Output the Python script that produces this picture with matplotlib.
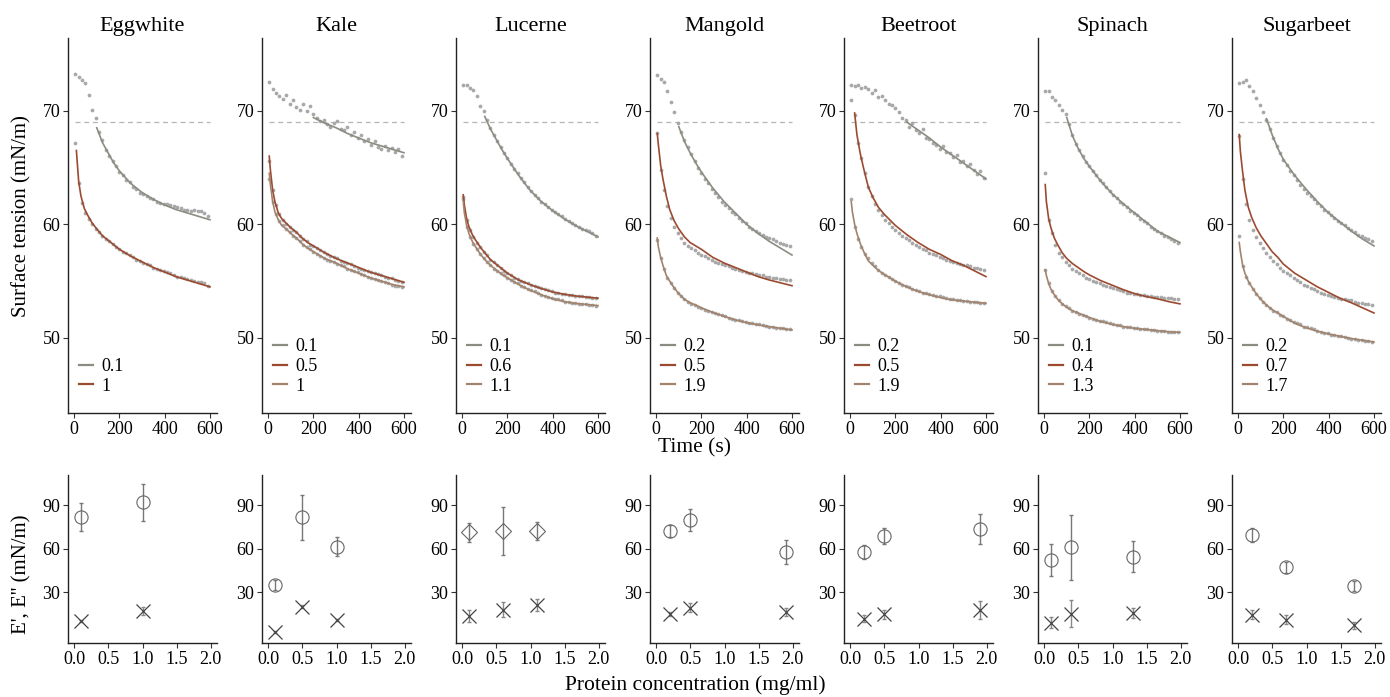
import matplotlib
matplotlib.use("Agg")
import matplotlib.pyplot as plt
from matplotlib.lines import Line2D

plt.rcParams['font.family'] = ['Liberation Serif', 'DejaVu Serif']

n = float('nan')

proteins = ['Eggwhite', 'Kale', 'Lucerne', 'Mangold', 'Beetroot', 'Spinach', 'Sugarbeet']

# time of measured points (s)
t_pts = [5, 20, 35, 50, 65, 80, 95, 110, 125, 140,
         155, 170, 185, 200, 215, 230, 245, 260, 275, 290,
         305, 320, 335, 350, 365, 380, 395, 410, 425, 440,
         455, 470, 485, 500, 515, 530, 545, 560, 575, 590]
# time of fitted curves (s)
t_fit = [5, 10, 20, 30, 45, 60, 80, 100, 125, 150, 175, 200, 250, 300, 350, 400, 450, 500, 550, 600]

REF_TENSION = 69.0

# ---- surface tension, measured points ----
eggwhite_01_pts = [73.2, 73.0, 72.7, 72.4, 71.4, 70.1, 69.4, 68.1, 67.4, 66.5,
                   66.0, 65.6, 65.1, 64.6, 64.3, 63.9, 63.7, 63.3, 63.1, 62.8,
                   62.7, 62.5, 62.3, 62.2, 62.0, 61.9, 61.8, 61.8, 61.7, 61.6,
                   61.5, 61.4, 61.3, 61.3, 61.2, 61.3, 61.2, 61.2, 61.0, 60.7]
eggwhite_1_pts = [67.2, 63.6, 61.9, 61.0, 60.5, 60.0, 59.6, 59.3, 59.0, 58.7,
                  58.5, 58.3, 58.0, 57.8, 57.6, 57.5, 57.3, 57.1, 56.9, 56.8,
                  56.6, 56.5, 56.4, 56.2, 56.1, 56.0, 55.9, 55.8, 55.7, 55.5,
                  55.4, 55.4, 55.3, 55.2, 55.1, 55.0, 54.9, 54.9, 54.8, 54.6]
kale_01_pts = [72.5, 71.9, 71.6, 71.3, 71.0, 71.4, 70.6, 70.9, 70.3, 70.1,
               70.6, 70.0, 70.4, 69.7, 69.4, 69.1, 69.2, 68.8, 68.6, 68.9,
               69.1, 68.4, 68.3, 68.6, 67.9, 68.1, 67.6, 67.9, 67.3, 67.5,
               67.0, 67.3, 66.8, 66.6, 66.9, 66.5, 66.7, 66.4, 66.6, 66.0]
kale_05_pts = [65.6, 63.0, 61.7, 60.9, 60.4, 60.0, 59.8, 59.5, 59.3, 59.0,
               58.7, 58.5, 58.2, 58.1, 57.9, 57.7, 57.6, 57.4, 57.2, 57.1,
               57.0, 56.8, 56.7, 56.6, 56.5, 56.3, 56.2, 56.1, 56.0, 55.9,
               55.8, 55.7, 55.6, 55.5, 55.4, 55.3, 55.3, 55.1, 55.0, 54.9]
kale_1_pts = [64.0, 62.0, 60.9, 60.3, 59.9, 59.6, 59.3, 59.0, 58.8, 58.5,
              58.2, 58.0, 57.8, 57.6, 57.4, 57.2, 57.0, 56.9, 56.8, 56.7,
              56.5, 56.4, 56.3, 56.1, 56.0, 55.9, 55.8, 55.6, 55.5, 55.4,
              55.3, 55.2, 55.1, 55.0, 54.9, 54.8, 54.7, 54.6, 54.6, 54.5]
lucerne_01_pts = [72.3, 72.3, 72.0, 71.8, 71.3, 70.4, 70.0, 69.2, 68.5, 67.9,
                  67.3, 66.8, 66.3, 65.8, 65.3, 64.9, 64.5, 64.1, 63.7, 63.3,
                  62.9, 62.6, 62.3, 62.0, 61.8, 61.5, 61.3, 61.1, 60.9, 60.7,
                  60.5, 60.3, 60.1, 59.9, 59.8, 59.6, 59.5, 59.4, 59.2, 59.0]
lucerne_06_pts = [62.4, 60.4, 59.5, 58.9, 58.4, 58.0, 57.6, 57.3, 56.9, 56.7,
                  56.4, 56.2, 55.9, 55.7, 55.5, 55.3, 55.2, 55.0, 54.9, 54.8,
                  54.7, 54.6, 54.5, 54.4, 54.3, 54.2, 54.1, 54.0, 53.95, 53.9,
                  53.85, 53.8, 53.75, 53.7, 53.7, 53.65, 53.6, 53.6, 53.55, 53.5]
lucerne_11_pts = [62.2, 59.8, 58.9, 58.3, 57.8, 57.4, 57.0, 56.7, 56.4, 56.1,
                  55.9, 55.7, 55.5, 55.3, 55.1, 54.9, 54.8, 54.6, 54.5, 54.3,
                  54.2, 54.1, 54.0, 53.8, 53.7, 53.6, 53.5, 53.4, 53.4, 53.3,
                  53.2, 53.2, 53.1, 53.05, 53.0, 53.0, 52.95, 52.9, 52.9, 52.85]
mangold_02_pts = [73.1, 72.8, 72.5, 71.7, 70.8, 69.9, 68.9, 68.1, 67.4, 66.8,
                  66.2, 65.6, 65.0, 64.5, 64.0, 63.6, 63.1, 62.8, 62.4, 62.0,
                  61.7, 61.4, 61.1, 60.9, 60.6, 60.3, 60.1, 59.8, 59.6, 59.4,
                  59.2, 59.1, 58.9, 58.8, 58.7, 58.5, 58.4, 58.3, 58.2, 58.1]
mangold_05_pts = [68.0, 64.8, 63.0, 61.6, 60.6, 59.8, 59.2, 58.8, 58.4, 58.1,
                  57.9, 57.7, 57.5, 57.3, 57.2, 57.0, 56.9, 56.7, 56.6, 56.5,
                  56.4, 56.3, 56.2, 56.1, 56.0, 55.9, 55.8, 55.7, 55.7, 55.6,
                  55.5, 55.5, 55.4, 55.4, 55.3, 55.3, 55.2, 55.2, 55.1, 55.1]
mangold_19_pts = [58.6, 57.0, 56.1, 55.3, 54.8, 54.4, 54.0, 53.7, 53.4, 53.2,
                  53.0, 52.9, 52.75, 52.6, 52.5, 52.4, 52.3, 52.2, 52.1, 52.0,
                  51.9, 51.8, 51.7, 51.6, 51.55, 51.5, 51.4, 51.35, 51.3, 51.25,
                  51.2, 51.1, 51.05, 51.0, 50.95, 50.9, 50.9, 50.85, 50.8, 50.75]
beetroot_02_pts = [72.3, 72.2, 72.3, 72.0, 72.1, 71.9, 71.6, 71.8, 71.2, 71.3,
                   70.9, 70.6, 70.5, 70.2, 69.9, 69.4, 69.2, 68.6, 68.9, 68.3,
                   68.0, 68.4, 67.6, 67.5, 67.2, 67.0, 66.6, 66.9, 66.4, 66.3,
                   65.9, 66.1, 65.5, 65.6, 65.1, 65.3, 64.8, 64.4, 64.7, 64.1]
beetroot_05_pts = [70.9, 69.6, 67.2, 65.8, 64.5, 63.3, 62.5, 61.8, 61.3, 60.8,
                   60.4, 60.1, 59.8, 59.5, 59.2, 59.0, 58.8, 58.6, 58.4, 58.2,
                   58.0, 57.8, 57.7, 57.5, 57.4, 57.3, 57.1, 57.0, 56.9, 56.8,
                   56.7, 56.6, 56.5, 56.4, 56.4, 56.3, 56.2, 56.2, 56.1, 56.0]
beetroot_19_pts = [62.2, 59.8, 58.7, 58.0, 57.4, 57.0, 56.6, 56.3, 56.0, 55.75,
                   55.55, 55.4, 55.2, 55.0, 54.85, 54.7, 54.55, 54.45, 54.35, 54.2,
                   54.1, 54.0, 53.95, 53.85, 53.8, 53.7, 53.65, 53.6, 53.5, 53.45,
                   53.4, 53.35, 53.3, 53.25, 53.25, 53.2, 53.15, 53.15, 53.1, 53.05]
spinach_01_pts = [71.7, 71.7, 71.2, 70.9, 70.5, 70.1, 69.7, 68.8, 67.9, 67.1,
                  66.5, 66.0, 65.5, 65.1, 64.7, 64.3, 63.9, 63.6, 63.3, 62.9,
                  62.6, 62.3, 62.0, 61.8, 61.5, 61.2, 61.0, 60.8, 60.5, 60.3,
                  60.1, 59.8, 59.6, 59.4, 59.2, 59.0, 58.9, 58.7, 58.5, 58.4]
spinach_04_pts = [64.5, 60.4, 59.2, 58.2, 57.5, 57.1, 56.7, 56.4, 56.1, 55.9,
                  55.7, 55.5, 55.3, 55.2, 55.0, 54.9, 54.8, 54.7, 54.6, 54.5,
                  54.4, 54.3, 54.2, 54.1, 54.0, 54.0, 53.9, 53.9, 53.8, 53.8,
                  53.7, 53.7, 53.6, 53.6, 53.6, 53.5, 53.5, 53.5, 53.4, 53.4]
spinach_13_pts = [56.0, 54.8, 54.1, 53.7, 53.3, 53.0, 52.8, 52.6, 52.4, 52.25,
                  52.15, 52.0, 51.9, 51.8, 51.7, 51.6, 51.5, 51.45, 51.4, 51.3,
                  51.2, 51.15, 51.1, 51.0, 51.0, 50.95, 50.9, 50.85, 50.8, 50.8,
                  50.75, 50.7, 50.7, 50.65, 50.6, 50.6, 50.55, 50.55, 50.5, 50.5]
sugarbeet_02_pts = [72.4, 72.5, 72.7, 72.2, 71.7, 71.1, 70.5, 69.9, 69.2, 68.4,
                    67.6, 66.9, 66.3, 65.7, 65.2, 64.7, 64.3, 63.9, 63.5, 63.1,
                    62.8, 62.5, 62.2, 61.9, 61.6, 61.3, 61.1, 60.8, 60.6, 60.3,
                    60.1, 59.9, 59.7, 59.5, 59.3, 59.1, 59.0, 58.8, 58.7, 58.5]
sugarbeet_07_pts = [67.8, 64.0, 61.8, 60.4, 59.5, 58.9, 58.4, 57.9, 57.5, 57.1,
                    56.8, 56.5, 56.2, 55.9, 55.7, 55.5, 55.3, 55.1, 54.9, 54.7,
                    54.6, 54.4, 54.3, 54.1, 54.0, 53.9, 53.8, 53.7, 53.6, 53.5,
                    53.4, 53.4, 53.3, 53.3, 53.2, 53.1, 53.1, 53.0, 53.0, 52.9]
sugarbeet_17_pts = [58.95, 56.3, 55.4, 54.8, 54.3, 53.9, 53.5, 53.2, 52.9, 52.65,
                    52.4, 52.25, 52.05, 51.9, 51.7, 51.55, 51.4, 51.3, 51.2, 51.0,
                    50.95, 50.85, 50.75, 50.6, 50.55, 50.45, 50.4, 50.3, 50.25, 50.2,
                    50.15, 50.1, 50.0, 49.95, 49.9, 49.85, 49.8, 49.75, 49.7, 49.65]

# ---- surface tension, fitted curves ----
eggwhite_01_fit = [n, n, n, n, n, n, n, 68.5, 67.2, 66.3, 65.4, 64.7, 63.6, 62.8, 62.2, 61.7, 61.3, 61.0, 60.7, 60.4]
eggwhite_1_fit = [n, 66.5, 63.8, 62.5, 61.4, 60.8, 60.1, 59.6, 59.0, 58.6, 58.2, 57.8, 57.2, 56.7, 56.2, 55.8, 55.4, 55.1, 54.8, 54.5]
kale_01_fit = [n, n, n, n, n, n, n, n, n, n, n, 69.4, 68.9, 68.5, 68.0, 67.6, 67.2, 66.9, 66.6, 66.3]
kale_05_fit = [66.0, 64.8, 63.0, 62.0, 61.0, 60.5, 60.1, 59.7, 59.3, 58.8, 58.4, 58.1, 57.5, 57.0, 56.6, 56.2, 55.8, 55.5, 55.2, 54.9]
kale_1_fit = [64.5, 63.5, 62.0, 61.1, 60.4, 59.9, 59.6, 59.2, 58.8, 58.3, 57.9, 57.6, 57.0, 56.6, 56.1, 55.7, 55.3, 55.0, 54.7, 54.5]
lucerne_01_fit = [n, n, n, n, n, n, n, 69.5, 68.4, 67.5, 66.6, 65.8, 64.3, 63.0, 62.0, 61.2, 60.5, 59.9, 59.4, 58.9]
lucerne_06_fit = [62.6, 61.7, 60.5, 59.8, 59.1, 58.6, 58.0, 57.5, 56.9, 56.5, 56.1, 55.7, 55.1, 54.7, 54.35, 54.05, 53.85, 53.7, 53.6, 53.5]
lucerne_11_fit = [62.0, 61.0, 59.9, 59.2, 58.5, 58.0, 57.4, 56.9, 56.4, 56.0, 55.6, 55.3, 54.7, 54.2, 53.8, 53.45, 53.2, 53.05, 52.95, 52.85]
mangold_02_fit = [n, n, n, n, n, n, n, 68.6, 67.3, 66.3, 65.4, 64.6, 63.2, 62.0, 61.0, 60.0, 59.2, 58.5, 57.9, 57.3]
mangold_05_fit = [68.0, 67.0, 65.2, 64.0, 62.5, 61.3, 60.3, 59.6, 58.9, 58.4, 58.1, 57.8, 57.1, 56.6, 56.2, 55.8, 55.4, 55.1, 54.85, 54.6]
mangold_19_fit = [58.8, 58.0, 57.1, 56.4, 55.5, 55.0, 54.4, 53.9, 53.4, 53.1, 52.9, 52.65, 52.25, 51.9, 51.6, 51.35, 51.15, 51.0, 50.85, 50.7]
beetroot_02_fit = [n, n, n, n, n, n, n, n, n, n, n, n, 69.0, 68.3, 67.6, 66.8, 66.1, 65.4, 64.7, 64.0]
beetroot_05_fit = [n, n, 69.8, 67.9, 66.2, 64.9, 63.3, 62.4, 61.5, 60.9, 60.4, 59.9, 59.1, 58.4, 57.8, 57.35, 56.8, 56.4, 55.9, 55.4]
beetroot_19_fit = [62.0, 61.1, 60.0, 59.2, 58.3, 57.6, 56.8, 56.4, 55.95, 55.6, 55.3, 55.0, 54.5, 54.1, 53.8, 53.55, 53.35, 53.25, 53.15, 53.05]
spinach_01_fit = [n, n, n, n, n, n, n, 69.4, 67.8, 66.7, 65.8, 65.1, 63.8, 62.7, 61.8, 61.0, 60.2, 59.4, 58.9, 58.4]
spinach_04_fit = [63.5, 62.0, 60.5, 59.7, 58.8, 58.2, 57.5, 57.0, 56.55, 56.2, 55.85, 55.55, 55.05, 54.65, 54.25, 53.9, 53.65, 53.45, 53.2, 53.0]
spinach_13_fit = [56.0, 55.5, 54.8, 54.3, 53.8, 53.4, 53.0, 52.7, 52.4, 52.2, 52.0, 51.8, 51.45, 51.2, 51.0, 50.85, 50.75, 50.65, 50.55, 50.5]
sugarbeet_02_fit = [n, n, n, n, n, n, n, n, 69.3, 67.9, 66.7, 65.7, 64.3, 63.1, 62.0, 61.0, 60.2, 59.4, 58.7, 58.1]
sugarbeet_07_fit = [67.9, 66.4, 64.6, 63.0, 61.5, 60.6, 59.7, 59.0, 58.3, 57.6, 57.1, 56.5, 55.7, 55.1, 54.5, 54.0, 53.5, 53.1, 52.65, 52.2]
sugarbeet_17_fit = [58.4, 57.6, 56.4, 55.7, 55.0, 54.5, 53.9, 53.4, 52.9, 52.5, 52.2, 51.9, 51.3, 50.9, 50.6, 50.35, 50.15, 49.95, 49.8, 49.65]

conc_labels = [['0.1', '1'], ['0.1', '0.5', '1'], ['0.1', '0.6', '1.1'], ['0.2', '0.5', '1.9'],
               ['0.2', '0.5', '1.9'], ['0.1', '0.4', '1.3'], ['0.2', '0.7', '1.7']]
pts_sets = [[eggwhite_01_pts, eggwhite_1_pts],
            [kale_01_pts, kale_05_pts, kale_1_pts],
            [lucerne_01_pts, lucerne_06_pts, lucerne_11_pts],
            [mangold_02_pts, mangold_05_pts, mangold_19_pts],
            [beetroot_02_pts, beetroot_05_pts, beetroot_19_pts],
            [spinach_01_pts, spinach_04_pts, spinach_13_pts],
            [sugarbeet_02_pts, sugarbeet_07_pts, sugarbeet_17_pts]]
fit_sets = [[eggwhite_01_fit, eggwhite_1_fit],
            [kale_01_fit, kale_05_fit, kale_1_fit],
            [lucerne_01_fit, lucerne_06_fit, lucerne_11_fit],
            [mangold_02_fit, mangold_05_fit, mangold_19_fit],
            [beetroot_02_fit, beetroot_05_fit, beetroot_19_fit],
            [spinach_01_fit, spinach_04_fit, spinach_13_fit],
            [sugarbeet_02_fit, sugarbeet_07_fit, sugarbeet_17_fit]]

# ---- dilatational moduli E' (storage) and E'' (loss), mN/m ----
conc = [[0.1, 1.0], [0.1, 0.5, 1.0], [0.1, 0.6, 1.1], [0.2, 0.5, 1.9],
        [0.2, 0.5, 1.9], [0.1, 0.4, 1.3], [0.2, 0.7, 1.7]]
e_store = [[82.0, 91.8], [34.8, 81.5, 61.3], [71.1, 72.1, 72.1], [72.1, 79.7, 57.8],
           [57.8, 68.9, 73.4], [52.1, 60.8, 54.4], [69.3, 47.0, 34.4]]
e_store_sd = [[9.6, 12.6], [3.5, 15.3, 6.5], [6.4, 16.7, 6.5], [4.2, 7.7, 8.3],
              [4.8, 5.4, 10.1], [11.2, 22.6, 10.5], [4.6, 3.5, 3.5]]
e_loss = [[10.2, 17.1], [2.6, 19.9, 10.7], [13.7, 18.0, 21.0], [14.8, 19.2, 16.4],
          [11.8, 14.8, 17.6], [9.1, 15.3, 15.7], [14.6, 11.1, 7.2]]
e_loss_sd = [[0.5, 3.0], [0.5, 1.0, 0.8], [4.0, 5.0, 4.0], [1.5, 3.0, 3.0],
             [2.5, 3.0, 6.2], [3.5, 9.5, 3.5], [3.0, 3.0, 2.5]]
store_marker = ['o', 'o', 'D', 'o', 'o', 'o', 'o']

fit_colors = ['#8c8c82', '#9b4a30', '#a3836b']
pt_color = '#a8a8a8'
tick_fs = 13

fig = plt.figure(figsize=(13.9, 6.97), dpi=100)


def style(ax):
    for s in ['top', 'right']:
        ax.spines[s].set_visible(False)
    for s in ['left', 'bottom']:
        ax.spines[s].set_linewidth(1.0)
        ax.spines[s].set_color('#222222')
    ax.tick_params(direction='out', length=3.5, width=0.8, color='#333333',
                   labelsize=tick_fs, pad=2)


for i, name in enumerate(proteins):
    left = (68 + 194 * i) / 1390
    w = 149 / 1390

    # top: surface tension vs time
    ax = fig.add_axes([left, 0.4075, w, 0.538])
    style(ax)
    ax.hlines(REF_TENSION, t_pts[0], t_fit[-1], colors='#b5b5b5', linestyles=(0, (4, 3)), lw=0.9)
    handles = []
    for k in range(len(pts_sets[i])):
        ax.plot(t_pts, pts_sets[i][k], 'o', ms=2.7, color=pt_color, mec='none')
    for k in range(len(fit_sets[i])):
        ax.plot(t_fit, fit_sets[i][k], '-', lw=1.2, color=fit_colors[k])
        handles.append(Line2D([], [], color=fit_colors[k], lw=1.6))
    ax.set_xlim(-27, 631)
    ax.set_ylim(43.4, 76.4)
    ax.set_xticks([0, 200, 400, 600])
    ax.set_yticks([50, 60, 70])
    ax.set_title(name, fontsize=16, pad=5)
    ax.legend(handles, conc_labels[i], loc='lower left', bbox_to_anchor=(0.0, 0.02),
              frameon=False, handlelength=0.8, handletextpad=0.45, labelspacing=0.15,
              fontsize=tick_fs, borderaxespad=0.2)

    # bottom: E' and E'' vs concentration
    bx = fig.add_axes([left, 0.0775, w, 0.241])
    style(bx)
    bx.errorbar(conc[i], e_store[i], yerr=e_store_sd[i], fmt='none', ecolor='#777777',
                elinewidth=1.0, capsize=1.5, capthick=1.0)
    ms = 8.5 if store_marker[i] == 'D' else 9.5
    bx.plot(conc[i], e_store[i], store_marker[i], ms=ms, mfc='none', mec='#666666', mew=0.8)
    bx.errorbar(conc[i], e_loss[i], yerr=e_loss_sd[i], fmt='none', ecolor='#888888',
                elinewidth=1.0, capsize=1.5, capthick=1.0)
    bx.plot(conc[i], e_loss[i], 'x', ms=10, mew=0.9, color='#444444')
    bx.set_xlim(-0.09, 2.09)
    bx.set_ylim(-5, 110.7)
    bx.set_xticks([0, 0.5, 1.0, 1.5, 2.0])
    bx.set_xticklabels(['0.0', '0.5', '1.0', '1.5', '2.0'])
    bx.set_yticks([30, 60, 90])

fig.text(0.5, 0.357, 'Time (s)', ha='center', va='center', fontsize=15.5)
fig.text(0.5, 0.017, 'Protein concentration (mg/ml)', ha='center', va='center', fontsize=15.5)
fig.text(0.016, 0.69, 'Surface tension (mN/m)', rotation=90, ha='center', va='center', fontsize=15)
fig.text(0.016, 0.176, "E', E'' (mN/m)", rotation=90, ha='center', va='center', fontsize=15)

fig.savefig('out.png', dpi=100)
